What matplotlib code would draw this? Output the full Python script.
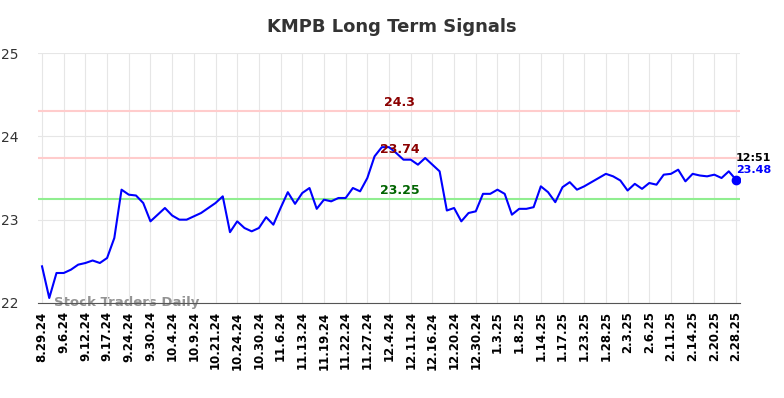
import matplotlib
matplotlib.use("Agg")
import matplotlib.pyplot as plt

# tick labels (one every 3 points)
tick_labels = ["8.29.24", "9.6.24", "9.12.24", "9.17.24", "9.24.24", "9.30.24",
               "10.4.24", "10.9.24", "10.21.24", "10.24.24", "10.30.24", "11.6.24",
               "11.13.24", "11.19.24", "11.22.24", "11.27.24", "12.4.24", "12.11.24",
               "12.16.24", "12.20.24", "12.30.24", "1.3.25", "1.8.25", "1.14.25",
               "1.17.25", "1.23.25", "1.28.25", "2.3.25", "2.6.25", "2.11.25",
               "2.14.25", "2.20.25", "2.28.25"]

prices = [22.44, 22.06, 22.36, 22.36, 22.40, 22.46, 22.48, 22.51, 22.48, 22.54,
          22.78, 23.36, 23.30, 23.29, 23.20, 22.98, 23.06, 23.14, 23.05, 23.00,
          23.00, 23.04, 23.08, 23.14, 23.20, 23.28, 22.85, 22.98, 22.90, 22.86,
          22.90, 23.03, 22.94, 23.14, 23.33, 23.19, 23.32, 23.38, 23.13, 23.24,
          23.22, 23.26, 23.26, 23.38, 23.34, 23.50, 23.76, 23.87, 23.87, 23.80,
          23.72, 23.72, 23.66, 23.74, 23.66, 23.58, 23.11, 23.14, 22.98, 23.08,
          23.10, 23.31, 23.31, 23.36, 23.31, 23.06, 23.13, 23.13, 23.15, 23.40,
          23.33, 23.21, 23.39, 23.45, 23.36, 23.40, 23.45, 23.50, 23.55, 23.52,
          23.47, 23.35, 23.43, 23.37, 23.44, 23.42, 23.54, 23.55, 23.60, 23.46,
          23.55, 23.53, 23.52, 23.54, 23.50, 23.58, 23.48]

upper_levels = [24.3, 23.74]
lower_level = 23.25
last_time = "12:51"

fig = plt.figure(figsize=(7.84, 3.98), dpi=100)
ax = fig.add_axes([0.049, 0.2387, 0.8944, 0.6281])

x = list(range(len(prices)))
ax.plot(x, prices, color="blue", lw=1.5, zorder=3)
ax.plot(x[-1], prices[-1], "o", color="blue", ms=6, zorder=4)

lbl_x = 49.5
for lv in upper_levels:
    ax.axhline(lv, color="#ffcccc", lw=1.5, zorder=2)
    ax.text(lbl_x, lv + 0.025, str(lv), color="darkred", fontsize=9,
            fontweight="bold", ha="center", va="bottom", zorder=5)
ax.axhline(lower_level, color="#90ee90", lw=1.5, zorder=2)
ax.text(lbl_x, lower_level + 0.025, str(lower_level), color="darkgreen", fontsize=9,
        fontweight="bold", ha="center", va="bottom", zorder=5)

ax.text(x[-1], prices[-1] + 0.2, last_time, color="black", fontsize=8,
        fontweight="bold", ha="left", va="bottom")
ax.text(x[-1], prices[-1] + 0.06, "%.2f" % prices[-1], color="blue", fontsize=8,
        fontweight="bold", ha="left", va="bottom")

ax.text(1.6, 22.0, "Stock Traders Daily", color="gray", alpha=0.85, fontsize=9.5,
        fontweight="bold", ha="left", va="center", zorder=1)

ax.set_xlim(-0.5, len(prices) - 0.5)
ax.set_ylim(22, 25)
ax.set_yticks([22, 23, 24, 25])
ax.set_xticks(x[::3])
ax.set_xticklabels(tick_labels, rotation=90, fontsize=8.5, fontweight="bold")
ax.tick_params(axis="y", labelsize=10, length=0, pad=14, colors="#333333")
ax.tick_params(axis="x", length=0, pad=6)
ax.grid(True, color="#e6e6e6", lw=0.8, zorder=0)
for s in ["left", "right", "top"]:
    ax.spines[s].set_visible(False)
ax.spines["bottom"].set_color("#555555")

fig.suptitle("KMPB Long Term Signals", fontsize=13, fontweight="bold",
             color="#333333", y=0.955)

fig.savefig("out.png", dpi=100)
